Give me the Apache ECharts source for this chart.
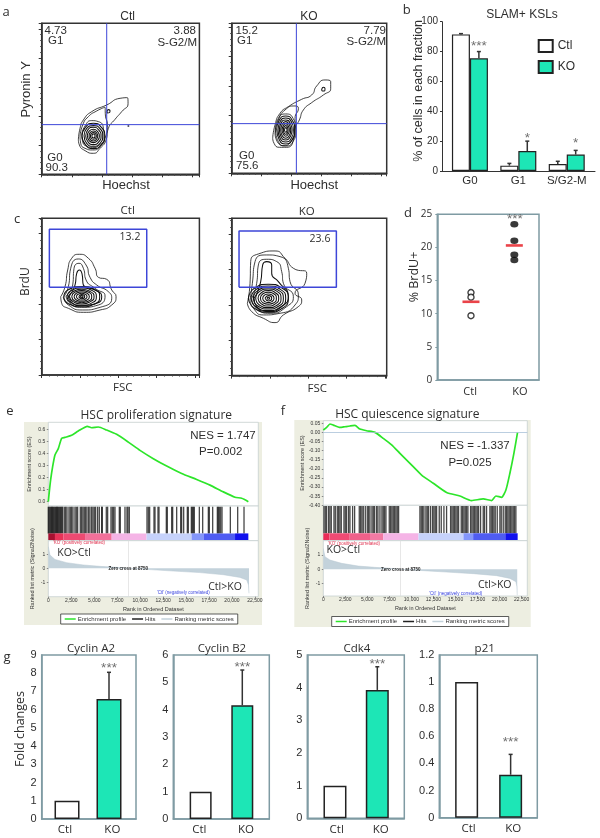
<!DOCTYPE html>
<html><head><meta charset="utf-8"><style>html,body{margin:0;padding:0;background:#fff}#c{width:600px;height:838px}</style>
<script src="https://cdn.jsdelivr.net/npm/echarts@6/dist/echarts.min.js"></script></head><body><div id="c"></div>
<script>
// ---------- DATA ----------
// flow plots: closed contours, channel units
const pyCtlContours=[
[[110,103],[115,138],[125,163],[150,188],[195,208],[235,228],[257,230],[259,213],[240,188],[220,165],[200,138],[193,103],[175,78],[155,63],[130,71],[113,88]],
[[115,113],[123,148],[140,173],[165,190],[190,201],[191,178],[197,148],[190,108],[175,83],[153,73],[130,78],[117,93]],
[[120,118],[130,145],[150,161],[170,158],[185,138],[187,108],[173,88],[153,80],[133,85],[123,98]],
[[121,115],[131,141],[155,153],[179,141],[189,115],[179,89],[155,77],[131,89]],
[[127,116],[135,138],[155,146],[175,137],[183,115],[175,93],[155,84],[135,93]],
[[132,115],[139,134],[155,141],[171,133],[178,115],[171,97],[155,89],[139,97]],
[[137,116],[143,130],[155,135],[167,129],[173,114],[167,101],[155,95],[143,100]],
[[142,115],[146,126],[155,130],[164,125],[168,115],[164,105],[155,100],[146,104]],
[[146,115],[149,122],[155,125],[161,122],[164,115],[161,108],[155,105],[149,108]],
[[150,115],[155,121],[160,115],[155,109]],
[[196,189],[200,194],[205,191],[203,185],[197,184]]];
const pyKoContours=[
[[123,105],[130,145],[145,180],[170,200],[210,222],[240,235],[255,262],[280,280],[297,275],[297,255],[275,235],[240,212],[215,190],[203,160],[190,135],[185,100],[165,78],[143,78],[127,90]],
[[130,120],[140,160],[160,190],[190,202],[200,195],[190,165],[190,125],[177,95],[157,83],[140,90]],
[[131,130],[140,165],[162,178],[184,165],[193,130],[184,95],[162,82],[140,95]],
[[135,132],[143,160],[162,172],[181,160],[189,130],[181,100],[162,88],[143,100]],
[[139,130],[146,156],[162,166],[178,156],[185,130],[178,104],[162,94],[146,104]],
[[143,131],[149,152],[162,160],[175,151],[181,130],[175,109],[162,100],[149,108]],
[[147,130],[152,148],[162,155],[172,147],[177,130],[172,112],[162,105],[152,112]],
[[151,130],[155,143],[162,149],[169,143],[173,130],[169,117],[162,111],[155,117]],
[[155,130],[157,139],[162,143],[167,139],[169,130],[167,121],[162,117],[157,121]],
[[158,130],[162,137],[166,130],[162,123]],
[[270,252],[275,258],[280,254],[278,247],[272,247]]];
const brduCtlContours=[
[[57,235],[70,265],[78,315],[90,350],[113,362],[140,350],[160,320],[170,293],[195,287],[210,255],[223,235],[210,210],[175,195],[125,188],[80,200],[60,215]],
[[65,233],[80,265],[87,320],[110,348],[133,330],[145,293],[165,270],[200,250],[210,230],[175,203],[123,195],[80,210]],
[[73,237],[93,270],[97,320],[112,335],[125,320],[133,285],[160,260],[190,237],[170,210],[120,203],[85,215]],
[[80,237],[100,270],[105,305],[113,315],[121,303],[125,270],[160,255],[180,235],[165,215],[120,208],[87,220]],
[[66,235],[80,256],[120,265],[160,256],[174,235],[160,214],[120,205],[80,214]],
[[76,235],[88,253],[120,261],[152,253],[164,235],[152,217],[120,209],[88,217]],
[[83,236],[94,250],[120,257],[146,250],[157,235],[146,220],[120,213],[94,220]],
[[90,235],[99,248],[120,253],[141,248],[150,235],[141,222],[120,217],[99,222]],
[[97,235],[104,245],[120,249],[136,245],[143,235],[136,225],[120,221],[104,225]],
[[104,235],[109,242],[120,245],[131,242],[136,235],[131,228],[120,225],[109,228]],
[[111,235],[120,241],[129,235],[120,229]],
[[116,235],[120,238],[124,235],[120,232]]];
const brduKoContours=[
[[47,217],[55,277],[57,342],[80,365],[130,374],[160,352],[185,322],[225,307],[220,277],[190,247],[210,227],[200,207],[155,182],[130,159],[95,172],[60,192]],
[[55,227],[62,277],[70,342],[105,362],[145,357],[170,322],[175,282],[200,242],[190,212],[145,187],[95,182],[65,202]],
[[60,232],[75,277],[80,332],[105,349],[135,342],[150,312],[155,277],[185,237],[165,207],[115,187],[75,202]],
[[67,232],[87,282],[93,332],[105,342],[120,332],[120,307],[140,282],[170,237],[150,207],[110,192],[75,207]],
[[50,232],[68,262],[110,274],[152,262],[170,232],[152,202],[110,190],[68,202]],
[[58,232],[73,258],[110,269],[147,258],[162,232],[147,206],[110,195],[73,206]],
[[65,233],[78,255],[110,264],[142,255],[155,232],[142,209],[110,200],[78,209]],
[[72,232],[83,252],[110,260],[137,252],[148,232],[137,212],[110,204],[83,212]],
[[79,232],[88,248],[110,255],[132,248],[141,232],[132,216],[110,209],[88,216]],
[[86,232],[93,245],[110,250],[127,245],[134,232],[127,219],[110,214],[93,219]],
[[93,232],[98,241],[110,245],[122,241],[127,232],[122,223],[110,219],[98,223]],
[[100,232],[110,240],[120,232],[110,224]],
[[106,232],[110,235],[114,232],[110,229]]];
const pyCtlGate=[195,149], pyKoGate=[194,149];
const pyCtlEvent=[[260,145]];
const brduCtlGate=[23,315,263,437], brduKoGate=[22,314,265,434];
// panel b
const bCategories=['G0','G1','S/G2-M'];
const bCtl=[91.5,3.6,4.7], bKO=[75.5,13.4,11];
const bCtlErr=[92,5.1,6.5], bKOErr=[80,20,13.8];
const bStars=[['***',83.7],['*',22],['*',18.8]];
// panel d
const dCategories=['Ctl','KO'];
const dCtl=[13.2,12.5,9.7], dKO=[23.5,21,18.9,18.1];
const dMeans=[11.8,20.3];
// GSEA e
const esE=[[0,0],[109,.083],[254,.18],[472,.29],[726,.387],[1089,.44],[1452,.525],[1815,.533],[2541,.55],[3267,.586],[4247,.625],[4719,.613],[5445,.619],[6352,.594],[7440,.558],[8712,.494],[9982,.425],[11434,.356],[12886,.295],[14520,.234],[16153,.184],[17605,.137],[19057,.081],[20328,.037],[21054,.028],[21780,0]];
const hitsE=[0,90,180,270,360,450,540,630,720,810,900,990,1080,1170,1260,1350,1452,1561,1742,1888,2033,2251,2396,2541,2686,2904,3049,3194,3485,3630,3775,3920,4066,4211,4392,4537,4719,4864,5009,5155,5372,5554,5808,5881,6316,6461,6824,6970,7115,7260,7732,7841,8349,8567,8676,8821,10745,10890,11035,11507,11616,11943,12052,12850,12959,13431,13540,13976,14411,14520,14738,15137,15246,15573,15682,15791,15899,16444,16807,17424,17533,17896,18404,18513,18622,18767,18912,19820,20618,21308];
const heatE=[[0,726,'#a81030'],[726,1634,'#e83358'],[1634,4000,'#ee4a72'],[4000,6900,'#f2709a'],[6900,10700,'#f5b4e6'],[10700,15600,'#c6d2fb'],[15600,16900,'#8496fb'],[16900,20330,'#4f5cf2'],[20330,21780,'#1111ee']];
const metricE=[[0,1.53],[181,.94],[726,.63],[2000,.4],[3800,.24],[5630,.14],[7440,.07],[8750,0],[11070,-.09],[13600,-.19],[16500,-.3],[19060,-.45],[20870,-.64],[21600,-.82],[21800,-1.18],[21850,-1.76]];
// GSEA f
const esF=[[0,.013],[378,.027],[756,.046],[1134,.04],[1890,.027],[2457,.031],[3024,.035],[3591,.038],[4158,.018],[4914,.009],[5859,0],[6804,-.033],[7749,-.069],[8694,-.115],[9828,-.17],[11151,-.234],[12474,-.279],[13986,-.33],[15498,-.349],[16821,-.374],[18144,-.365],[19089,-.374],[19580,-.349],[20223,-.356],[20714,-.316],[21168,-.224],[21622,-.115],[22038,0]];
const hitsF=[76,227,378,605,756,907,1210,1361,1588,1739,1890,2041,2344,2495,2646,2873,3024,3326,3553,4082,4234,4385,4536,4763,4990,5141,5292,5519,5670,5821,6048,6199,6426,6653,6804,6955,7106,7484,7636,7787,7938,8089,8240,8392,8543,10962,11113,11264,11416,11642,11794,11945,12172,12398,12550,12701,12852,13154,13381,13684,13986,14440,14591,14742,14893,15044,15196,15347,15649,15800,15952,16103,16254,16405,16708,16859,17010,17161,17312,17464,17615,17842,18144,18295,18522,18900,19051,19202,19354,19505,19732,20034,20185,20412,20639,20790,20941,21092,21244,21395,21546,21697,21848];
const heatF=[[0,700,'#ea2c58'],[700,3000,'#f04a74'],[3000,5300,'#f0608a'],[5300,6800,'#f27aa4'],[6800,10800,'#f5b4e6'],[10800,15900,'#c6d2fb'],[15900,17000,'#8496fb'],[17000,20650,'#4f5cf2'],[20650,22050,'#1111ee']];
const metricF=[[0,1.46],[189,.88],[756,.65],[2079,.42],[3969,.23],[5859,.14],[7560,.07],[8770,0],[11340,-.09],[13986,-.19],[17010,-.3],[19656,-.44],[21168,-.63],[21850,-.86],[21960,-1.2],[22000,-1.8]];
const rankTicks=[0,2500,5000,7500,10000,12500,15000,17500,20000,22500];
const esTicksE=[0,.1,.2,.3,.4,.5,.6];
const esTicksF=[.05,0,-.05,-.1,-.15,-.2,-.25,-.3,-.35,-.4];
const metricTicks=[1,0,-1];
// panel g
const gCategories=['Ctl','KO'];
const a2=[1,6.58], a2Err=8.05, a2Star=8.28;
const b2=[1,4.16], b2Err=5.45, b2Star=5.56;
const cdk4=[1,3.93], cdk4Err=4.64, cdk4Star=4.72;
const p21=[1,.317], p21Err=.467, p21Star=.553;

// ---------- STYLE ----------
const SANS='"Liberation Sans",Arial,sans-serif', HUM='"Open Sans",sans-serif';
const TEXT='#2e2e2e', TEAL='#1de6b6', FRAME='#7f9ba3', BAR='#222';
const P={grid:[],xAxis:[],yAxis:[],series:[]}, G=[];
function addPlot(g,x,y){P.grid.push(g);const i=P.grid.length-1;P.xAxis.push(Object.assign({gridIndex:i,type:'value'},x));P.yAxis.push(Object.assign({gridIndex:i,type:'value'},y));return i;}
function ser(i,s){P.series.push(Object.assign({xAxisIndex:i,yAxisIndex:i,animation:false,silent:true},s));}
function text(x,y,t,o={}){G.push({type:'text',z:100,x,y,rotation:o.rot||0,style:{text:t,fill:o.color||TEXT,align:o.align||'center',verticalAlign:'middle',textAlign:o.align||'center',textVerticalAlign:'middle',font:(o.weight||'normal')+' '+(o.size||12)+'px '+(o.font||SANS)}});}
const UP=Math.PI/2;

// ---------- FLOW PLOTS ----------
function flow(box,xU,yU,xInt,yInt,contours){
  const axis={axisLabel:{show:false},splitLine:{show:false},axisLine:{show:true,onZero:false,lineStyle:{color:'#333',width:1.5}},
    axisTick:{show:true,length:3,lineStyle:{color:'#333'}},minorTick:{show:true,splitNumber:5,length:1.5,lineStyle:{color:'#444'}}};
  const i=addPlot(Object.assign({show:true,borderColor:'#333',borderWidth:1.5},box),
    Object.assign({min:0,max:xU,interval:xInt},axis),Object.assign({min:0,max:yU,interval:yInt},axis));
  contours.forEach((c,k)=>ser(i,{type:'line',data:c.concat([c[0]]),smooth:.6,symbol:'none',lineStyle:{color:'#111',width:k<3?.8:1.05}}));
  return i;
}
function blue(i,pts,w){ser(i,{type:'line',data:pts,symbol:'none',z:4,lineStyle:{color:'#3d46d8',width:w}});}
let i;
i=flow({left:41.7,top:23.3,width:157.7,height:151},473,453,90.4,87.3,pyCtlContours);
blue(i,[[pyCtlGate[0],0],[pyCtlGate[0],453]],1);blue(i,[[0,pyCtlGate[1]],[473,pyCtlGate[1]]],1);
ser(i,{type:'scatter',data:pyCtlEvent,symbolSize:2,itemStyle:{color:'#223'}});
i=flow({left:231.7,top:23.3,width:155,height:150},465,450,90,87.5,pyKoContours);
blue(i,[[pyKoGate[0],0],[pyKoGate[0],450]],1);blue(i,[[0,pyKoGate[1]],[465,pyKoGate[1]]],1);
function gate(i,g){blue(i,[[g[0],g[2]],[g[1],g[2]],[g[1],g[3]],[g[0],g[3]],[g[0],g[2]]],1.5);}
i=flow({left:41.7,top:218.3,width:157.7,height:156.7},473,470,115,106,brduCtlContours);gate(i,brduCtlGate);
i=flow({left:231.7,top:218.3,width:155,height:157.3},465,472,115,106,brduKoContours);gate(i,brduKoGate);

// ---------- ERROR / STAR HELPERS ----------
function errSeries(i,data,color){
  ser(i,{type:'custom',data,encode:{x:0,y:1},z:3,renderItem:(p,api)=>{
    const x=api.coord([api.value(0),0])[0],t=api.coord([0,api.value(1)])[1],b=api.coord([0,api.value(2)])[1];
    return {type:'group',children:[
      {type:'line',shape:{x1:x,y1:b,x2:x,y2:t},style:{stroke:color||'#333',lineWidth:1.5}},
      {type:'line',shape:{x1:x-2,y1:t,x2:x+2,y2:t},style:{stroke:color||'#333',lineWidth:1.5}}]};
  }});
}
function stars(i,data){
  ser(i,{type:'scatter',symbolSize:1,itemStyle:{color:'transparent'},z:5,data:data.map(d=>({value:[d[0],d[1]],name:d[2]})),
    label:{show:true,position:'inside',formatter:'{b}',fontSize:13.5,color:'#4a4a4a',fontFamily:SANS}});
}
const tickLab={fontSize:11,color:TEXT,fontFamily:SANS};

// ---------- PANEL b ----------
i=addPlot({left:442,top:21.7,width:153,height:149.3},
 {min:-.577,max:2.584,splitLine:{show:false},axisTick:{show:false},axisLine:{onZero:false,lineStyle:{color:'#333',width:1}},
  axisLabel:{customValues:[0,1,2],formatter:v=>bCategories[v],fontSize:11.5,color:TEXT,fontFamily:SANS,margin:4}},
 {min:0,max:100,interval:20,splitLine:{show:false},axisLine:{show:true,onZero:false,lineStyle:{color:'#333',width:1}},axisTick:{show:true,length:2,lineStyle:{color:'#333'}},
  axisLabel:{fontSize:10,color:TEXT,fontFamily:SANS,margin:4}});
ser(i,{type:'bar',name:'Ctl',barWidth:18,barGap:'0%',data:bCtl.map((v,k)=>[k,v]),itemStyle:{color:'#fff',borderColor:BAR,borderWidth:1.2}});
ser(i,{type:'bar',name:'KO',barWidth:18,barGap:'0%',data:bKO.map((v,k)=>[k,v]),itemStyle:{color:TEAL,borderColor:BAR,borderWidth:1.2}});
errSeries(i,bCtl.map((v,k)=>[k-.185,bCtlErr[k],v]));
errSeries(i,bKO.map((v,k)=>[k+.185,bKOErr[k],v]));
stars(i,bStars.map((s,k)=>[k+.185,s[1],s[0]]));

// ---------- PANEL d ----------
i=addPlot({left:437.3,top:214.3,width:101.7,height:165.7,show:true,borderColor:FRAME,borderWidth:1.5},
 {min:-.777,max:1.569,splitLine:{show:false},axisTick:{show:false},axisLine:{onZero:false,lineStyle:{color:FRAME,width:1.5}},
  axisLabel:{customValues:[-.02,1.13],formatter:v=>dCategories[Math.abs(Math.round(v))],fontSize:11,color:TEXT,fontFamily:HUM,margin:6}},
 {min:0,max:25,interval:5,splitLine:{show:false},axisLine:{show:true,onZero:false,lineStyle:{color:FRAME,width:1.5}},axisTick:{show:true,length:2,lineStyle:{color:FRAME}},
  axisLabel:{fontSize:10,color:TEXT,fontFamily:HUM,margin:5}});
ser(i,{type:'scatter',data:dCtl.map(v=>[0,v]),symbolSize:6,itemStyle:{color:'#fff',borderColor:'#111',borderWidth:1.4}});
ser(i,{type:'scatter',data:dKO.map(v=>[1,v]),symbolSize:[8,6.5],itemStyle:{color:'#080808'}});
ser(i,{type:'scatter',data:dMeans.map((v,k)=>[k,v]),symbol:'rect',symbolSize:[17,2.6],z:4,itemStyle:{color:'#e5141c'}});
stars(i,[[1.01,24.2,'***']]);

// ---------- GSEA ----------
function gsea(o){
  const axisBase={splitLine:{show:false},axisLine:{show:false,onZero:false}};
  const hidden={show:false,min:0,max:o.xMax};
  const gridStyle={show:true,backgroundColor:'#fff',borderColor:'#c6d0d0',borderWidth:.8};
  const ylab={fontSize:5,color:'#333',fontFamily:SANS,margin:3};
  // enrichment score
  let a=addPlot(Object.assign({left:o.left,width:o.width,top:o.esTop,height:o.esH},gridStyle),hidden,
   Object.assign({min:o.esMin,max:o.esMax,name:'Enrichment score (ES)',nameLocation:'middle',nameGap:o.nameGap1,nameTextStyle:{fontSize:5.5,color:'#333',fontFamily:SANS},
    axisTick:{show:true,length:1.5,customValues:o.esTicks,lineStyle:{color:'#888'}},axisLabel:Object.assign({customValues:o.esTicks,formatter:o.esFmt},ylab)},axisBase));
  ser(a,Object.assign({type:'line',name:'Enrichment profile',data:o.es,symbol:'none',smooth:.2,z:3,itemStyle:{color:'#2de52a'},lineStyle:{color:'#2de52a',width:1.7}},
   o.zero?{markLine:{silent:true,symbol:'none',animation:false,label:{show:false},lineStyle:{color:'#a9c2d8',type:'solid',width:.8},data:[{yAxis:0}]}}:{}));
  // hits + heat
  let b=addPlot(Object.assign({left:o.left,width:o.width,top:o.esTop+o.esH,height:o.hitsH},gridStyle),hidden,{show:false,min:0,max:1});
  ser(b,{type:'custom',name:'Hits',data:o.hits.map(r=>[r]),encode:{x:0},itemStyle:{color:'#222'},renderItem:(p,api)=>{
    const x=api.coord([api.value(0),0])[0],y0=api.coord([0,.21])[1],y1=api.coord([0,.98])[1];
    return {type:'line',shape:{x1:x,y1:y0,x2:x,y2:y1},style:{stroke:'#000',lineWidth:1.3,opacity:.72}};}});
  ser(b,{type:'custom',data:o.heat.map(h=>[h[0],h[1]]),encode:{x:[0,1]},renderItem:(p,api)=>{
    const a0=api.coord([api.value(0),.21]),a1=api.coord([api.value(1),.02]);
    return {type:'rect',shape:{x:a0[0],y:a0[1],width:a1[0]-a0[0],height:a1[1]-a0[1]},style:{fill:o.heat[p.dataIndex][2]}};}});
  // ranked metric
  let c=addPlot(Object.assign({left:o.left,width:o.width,top:o.esTop+o.esH+o.hitsH,height:o.mH},gridStyle),
   {min:0,max:o.xMax,name:'Rank in Ordered Dataset',nameLocation:'middle',nameGap:9.5,nameTextStyle:{fontSize:5.5,color:'#333',fontFamily:SANS},
    splitLine:{show:false},axisLine:{show:false,onZero:false},axisTick:{show:true,length:1.5,customValues:rankTicks,lineStyle:{color:'#888'}},
    axisLabel:{customValues:rankTicks,formatter:v=>v.toLocaleString('en-US'),fontSize:5,color:'#333',fontFamily:SANS,margin:1.5}},
   Object.assign({min:o.mMin,max:o.mMax,name:'Ranked list metric (Signal2Noise)',nameLocation:'middle',nameGap:o.nameGap2,nameTextStyle:{fontSize:5.5,color:'#333',fontFamily:SANS},
    axisTick:{show:true,length:1.5,customValues:metricTicks,lineStyle:{color:'#888'}},axisLabel:Object.assign({customValues:metricTicks},ylab)},axisBase));
  ser(c,{type:'line',name:'Ranking metric scores',data:o.metric,symbol:'none',itemStyle:{color:'#c3d2db'},lineStyle:{color:'#b8c9d3',width:.5},areaStyle:{color:'#c3d2db',opacity:1},
    markLine:{silent:true,symbol:'none',animation:false,label:{show:false},lineStyle:{color:'#dcdcdc',type:'solid',width:.7},data:[{xAxis:8750}]}});
  G.push({type:'rect',z:-10,shape:o.panel,style:{fill:'#edeee1'}});
}
gsea({left:48.3,width:210,xMax:22863,esTop:422.3,esH:83.7,hitsH:34.7,mH:56,esMin:-.036,esMax:.658,es:esE,esTicks:esTicksE,esFmt:v=>v.toFixed(1),
  hits:hitsE,heat:heatE,metric:metricE,mMin:-2,mMax:1.95,nameGap1:15.5,nameGap2:13,panel:{x:24,y:422,width:238,height:203}});
gsea({left:323.3,width:204,xMax:23143,esTop:420.7,esH:84.6,hitsH:35.4,mH:55.3,esMin:-.4,esMax:.064,es:esF,esTicks:esTicksF,esFmt:v=>v.toFixed(2),zero:true,
  hits:hitsF,heat:heatF,metric:metricF,mMin:-1.86,mMax:2,nameGap1:17,nameGap2:13,panel:{x:294.3,y:420,width:236.4,height:207}});

// ---------- PANEL g ----------
function qpcr(box,cats,vals,err,star,yMax,yInt,xMin,xMax,labelPos,barW){
  const i=addPlot(Object.assign({show:true,borderColor:FRAME,borderWidth:1.5},box),
   {min:xMin,max:xMax,splitLine:{show:false},axisTick:{show:false},axisLine:{onZero:false,lineStyle:{color:FRAME,width:1.5}},
    axisLabel:{customValues:labelPos,formatter:v=>cats[Math.abs(Math.round(v))],fontSize:11.5,color:TEXT,fontFamily:HUM,margin:5}},
   {min:0,max:yMax,interval:yInt,splitLine:{show:false},axisLine:{show:true,onZero:false,lineStyle:{color:FRAME,width:1.5}},axisTick:{show:false},
    axisLabel:Object.assign({},tickLab,{margin:5})});
  ser(i,{type:'bar',barWidth:barW,data:vals.map((v,k)=>({value:[k,v],itemStyle:{color:k?TEAL:'#fff',borderColor:BAR,borderWidth:1.5}}))});
  errSeries(i,[[1,err,vals[1]]]);
  stars(i,[[1,star,'***']]);
}
qpcr({left:41.7,top:655,width:94.3,height:164},gCategories,a2,a2Err,a2Star,9,1,-.603,1.643,[-.05,1.08],25);
qpcr({left:173.3,top:655,width:96,height:164},gCategories,b2,b2Err,b2Star,6,1,-.656,1.648,[-.03,1.09],22);
qpcr({left:307.3,top:655,width:97,height:163.3},gCategories,cdk4,cdk4Err,cdk4Star,5,1,-.654,1.638,[.04,1.08],23);
qpcr({left:439.3,top:655,width:98,height:162.7},gCategories,p21,p21Err,p21Star,1.2,.2,-.621,1.606,[.045,1.06],23);

// ---------- TEXT ----------
[['a',6,12],['b',406.7,10],['c',17,219],['d',408,213],['e',10,411],['f',283,411],['g',7,657]].forEach(t=>text(t[1],t[2],t[0],{size:13,font:HUM}));
// a
text(127.7,16.5,'Ctl',{size:12});text(309,16.5,'KO',{size:12});
text(55.7,30.7,'4.73',{size:11.5});text(55.7,40.7,'G1',{size:11.5});
text(196,30.7,'3.88',{size:11.5,align:'right'});text(197,43.3,'S-G2/M',{size:11.5,align:'right'});
text(55,158.3,'G0',{size:11.5});text(56.7,167.7,'90.3',{size:11.5});
text(246.7,30.7,'15.2',{size:11.5});text(244.7,41,'G1',{size:11.5});
text(386,30.7,'7.79',{size:11.5,align:'right'});text(386,42,'S-G2/M',{size:11.5,align:'right'});
text(246.7,156,'G0',{size:11.5});text(247.3,166,'75.6',{size:11.5});
text(126,185.7,'Hoechst',{size:13});text(314.3,185.7,'Hoechst',{size:13});
text(26,89.3,'Pyronin Y',{size:13,rot:UP});
// b
text(522,14.3,'SLAM+ KSLs',{size:12});
text(419,91,'% of cells in each fraction',{size:12.5,rot:UP});
// c
text(127.7,210.7,'Ctl',{size:11.5,font:HUM});text(306.7,211.7,'KO',{size:11.5,font:HUM});
text(130,237,'13.2',{size:10.5,font:HUM});text(320,239,'23.6',{size:10.5,font:HUM});
text(26,281.7,'BrdU',{size:12,font:HUM,rot:UP});
text(122.7,388,'FSC',{size:11.5,font:HUM});text(317.3,389,'FSC',{size:11.5,font:HUM});
// d
text(414,277,'% BrdU+',{size:12.5,font:HUM,rot:UP});
// e
text(156.3,415.7,'HSC proliferation signature',{size:12,font:HUM});
text(223,435.7,'NES = 1.747',{size:11.5});text(220.7,452.3,'P=0.002',{size:11.5});
text(74,552.7,'KO>Ctl',{size:10.5,font:HUM});text(225,586.7,'Ctl>KO',{size:10.5,font:HUM});
text(128.3,568.7,'Zero cross at 8750',{size:4.5,weight:'bold',color:'#222'});
text(79,543,"'KO' (positively correlated)",{size:4.5,color:'#e0304e'});
text(183.3,592.7,"'Ctl' (negatively correlated)",{size:4.5,color:'#3a44e0'});
// f
text(407.3,415,'HSC quiescence signature',{size:12,font:HUM});
text(475,445.7,'NES = -1.337',{size:11.5});text(470,462.7,'P=0.025',{size:11.5});
text(343.3,550,'KO>Ctl',{size:10.5,font:HUM});text(494.7,584.7,'Ctl>KO',{size:10.5,font:HUM});
text(400.7,569.3,'Zero cross at 8750',{size:4.5,weight:'bold',color:'#222'});
text(354,543.3,"'KO' (positively correlated)",{size:4.5,color:'#e0304e'});
text(455.7,593.7,"'Ctl' (negatively correlated)",{size:4.5,color:'#3a44e0'});
// g
text(91,649,'Cyclin A2',{size:11.5,font:HUM});text(222,649,'Cyclin B2',{size:11.5,font:HUM});
text(357,649,'Cdk4',{size:11.5,font:HUM});text(484.7,649,'p21',{size:11.5,font:HUM});
text(20.7,729,'Fold changes',{size:12.5,font:HUM,rot:UP});

const gseaLegend=(left,top)=>({show:true,left,top,orient:'horizontal',selectedMode:false,data:['Enrichment profile','Hits','Ranking metric scores'],
  itemWidth:11,itemHeight:1.5,itemGap:6,icon:'rect',backgroundColor:'#fff',borderColor:'#333',borderWidth:.8,padding:[2,4],textStyle:{fontSize:6,color:'#333',fontFamily:SANS,padding:[0,0,0,-3]}});
const chart=echarts.init(document.getElementById('c'),null,{renderer:'canvas'});
chart.setOption({animation:false,backgroundColor:'#fff',
  legend:[{show:true,left:537.7,top:39,orient:'vertical',selectedMode:false,data:['Ctl','KO'],itemWidth:14,itemHeight:12,itemGap:7,padding:0,icon:'rect',textStyle:{fontSize:12,color:TEXT,fontFamily:SANS}},
    gseaLegend(60.7,614),gseaLegend(331.7,616.5)],
  grid:P.grid,xAxis:P.xAxis,yAxis:P.yAxis,series:P.series,graphic:{elements:G}});
</script></body></html>
